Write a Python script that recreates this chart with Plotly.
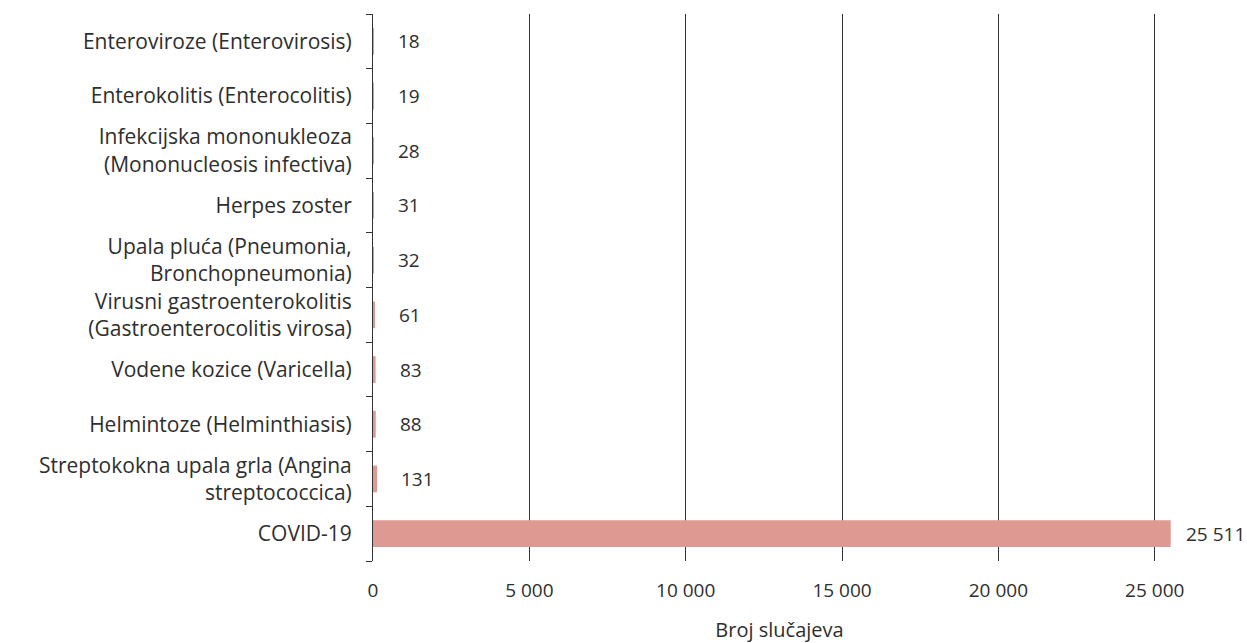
import plotly.graph_objects as go

categories = [
    "COVID-19",
    "Streptokokna upala grla (Angina<br>streptococcica)",
    "Helmintoze (Helminthiasis)",
    "Vodene kozice (Varicella)",
    "Virusni gastroenterokolitis<br>(Gastroenterocolitis virosa)",
    "Upala pluća (Pneumonia,<br>Bronchopneumonia)",
    "Herpes zoster",
    "Infekcijska mononukleoza<br>(Mononucleosis infectiva)",
    "Enterokolitis (Enterocolitis)",
    "Enteroviroze (Enterovirosis)",
]
values = [25511, 131, 88, 83, 61, 32, 31, 28, 19, 18]
x_ticks = [0, 5000, 10000, 15000, 20000, 25000]

bar_color = "#de9a92"
text_color = "#2e2e2e"
line_color = "#333333"
font_family = "Open Sans"

fig = go.Figure()
fig.add_trace(go.Bar(
    x=values, y=categories, orientation="h",
    marker=dict(color=bar_color, line=dict(width=0)),
    width=0.49,
    hoverinfo="x+y",
))

for c, v in zip(categories, values):
    fig.add_annotation(
        x=v, y=c, text=f"{v:,}".replace(",", " "),
        showarrow=False, xanchor="left", xshift=(13 if v > 1000 else 22),
        font=dict(family=font_family, size=19, color=text_color),
    )

fig.update_layout(
    width=1247, height=643,
    margin=dict(l=373, r=61, t=14, b=82, autoexpand=False),
    paper_bgcolor="white", plot_bgcolor="white",
    separators=", ",
    showlegend=False,
    font=dict(family=font_family, size=21, color=text_color),
)
fig.update_xaxes(
    range=[0, 26000],
    tickvals=x_ticks,
    tickformat=",d",
    tickfont=dict(size=19),
    showgrid=True, gridcolor=line_color, gridwidth=1,
    zeroline=False, showline=False, automargin=False,
    ticks="", ticklabelstandoff=16,
    title=dict(text="Broj slučajeva", standoff=21, font=dict(size=20)),
)
fig.update_yaxes(
    showline=True, linecolor=line_color, linewidth=1, automargin=False,
    ticks="outside", tickson="boundaries", ticklen=6, tickcolor=line_color,
    showgrid=False, ticklabelstandoff=16,
    range=[-0.5, 9.5],
)

fig.write_html(
    "out.html",
    config={"displayModeBar": False},
    post_script="document.body.style.margin='0';document.body.style.overflow='hidden';",
)
